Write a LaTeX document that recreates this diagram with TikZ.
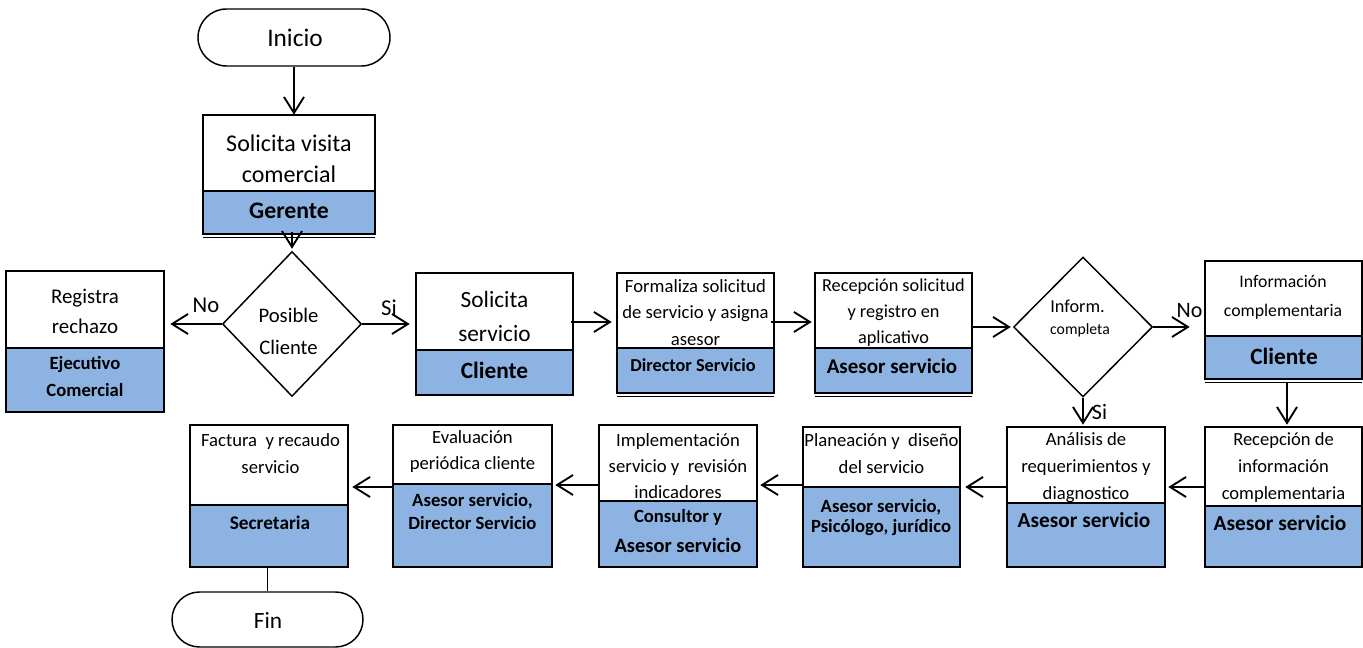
\documentclass[tikz,border=0pt]{standalone}
\usepackage{fontspec}
\setmainfont{Carlito}
\usetikzlibrary{arrows.meta,shapes.geometric,shapes.misc,calc,fit}
\definecolor{rolefill}{RGB}{141,179,226}
\tikzset{
  boxline/.style={line width=1.5pt},
  dblline/.style={line width=1pt},
  arr/.style={line width=1.4pt,-{Straight Barb[length=12pt,width=15pt,line width=1.4pt]}},
  conn/.style={line width=1.4pt},
  term/.style={draw, line width=1.1pt, rounded rectangle, inner sep=0pt},
  decision/.style={draw, line width=1.1pt, diamond, inner sep=0pt},
  txt/.style={align=center, inner sep=0pt},
  lbl/.style={inner sep=0pt, font=\fontsize{17}{20}\selectfont},
}
\newcommand\procbox[6]{%
  \node[fit={(#2,#4)(#3,#6)}, inner sep=0pt, fill=white] (#1) {};
  \fill[rolefill] (#2,#5) rectangle (#3,#6);
  \draw[boxline] (#2,#5) -- (#3,#5);
  \draw[boxline] (#1.north west) rectangle (#1.south east);
}
\newcommand\dblbottom[1]{%
  \draw[dblline] ($(#1.south west)+(0,3)$) -- ($(#1.south east)+(0,3)$);
}
\begin{document}
\begin{tikzpicture}[x=0.75pt,y=-0.75pt]
\useasboundingbox (0,0) rectangle (1363,648);

% terminals
\node[term, minimum width=144pt, minimum height=42.75pt] (inicio) at (294,37.5) {};
\node[txt, font=\fontsize{19}{22}\selectfont] (iniciot) at (295,38) {Inicio};
\node[term, minimum width=143.25pt, minimum height=41.25pt] (fin) at (267.5,619.5) {};
\node[txt, font=\fontsize{17.5}{21}\selectfont] (fint) at (268,620) {Fin};

% process boxes
\procbox{b1}{203}{375}{115}{191}{234}
\dblbottom{b1}
\node[txt, font=\fontsize{18}{23}\selectfont] (b1t) at (289,158.5) {Solicita visita\\comercial};
\node[txt, font=\bfseries\fontsize{17.8}{21}\selectfont] (b1r) at (289,211) {Gerente};

\procbox{b2}{6}{164}{271}{348}{412}
\node[txt, font=\fontsize{15.7}{22}\selectfont] (b2t) at (85,311.5) {Registra\\rechazo};
\node[txt, font=\bfseries\fontsize{14}{20}\selectfont] (b2r) at (85,376.5) {Ejecutivo\\Comercial};

\procbox{b3}{416}{573}{273}{350}{395}
\node[txt, font=\fontsize{17.5}{25}\selectfont] (b3t) at (494.5,316.5) {Solicita\\servicio};
\node[txt, font=\bfseries\fontsize{17.5}{21}\selectfont] (b3r) at (494.5,370) {Cliente};

\procbox{b4}{617}{774}{273}{348}{393}
\dblbottom{b4}
\node[txt, font=\fontsize{14}{20}\selectfont] (b4t) at (695.5,312.5) {Formaliza solicitud\\de servicio y asigna\\asesor};
\node[txt, font=\bfseries\fontsize{13.7}{17}\selectfont] (b4r) at (693,365) {Director Servicio};

\procbox{b5}{815}{972}{273}{348}{393}
\dblbottom{b5}
\node[txt, font=\fontsize{13.7}{19.3}\selectfont] (b5t) at (893.5,312.5) {Recepción solicitud\\y registro en\\aplicativo};
\node[txt, font=\bfseries\fontsize{15.75}{19}\selectfont] (b5r) at (892,366) {Asesor servicio};

\procbox{b6}{1205}{1362}{261}{336}{379}
\dblbottom{b6}
\node[txt, font=\fontsize{13.3}{22}\selectfont] (b6t) at (1283,297.5) {Información\\complementaria};
\node[txt, font=\bfseries\fontsize{17.5}{21}\selectfont] (b6r) at (1284,356) {Cliente};

\procbox{b7}{1205}{1362}{427}{506}{567}
\node[txt, font=\fontsize{13.9}{20.5}\selectfont] (b7t) at (1283.5,467.5) {Recepción de\\información\\complementaria};
\node[txt, font=\bfseries\fontsize{16}{19}\selectfont] (b7r) at (1280,523) {Asesor servicio};

\procbox{b8}{1007}{1165}{427}{503}{567}
\node[txt, font=\fontsize{14}{20.5}\selectfont] (b8t) at (1086,467.5) {Análisis de\\requerimientos y\\diagnostico};
\node[txt, font=\bfseries\fontsize{16}{19}\selectfont] (b8r) at (1084,520) {Asesor servicio};

\procbox{b9}{803}{960}{427}{487}{567}
\node[txt, font=\fontsize{14}{20}\selectfont] (b9t) at (881.5,453.5) {Planeación y~~diseño\\del servicio};
\node[txt, font=\bfseries\fontsize{14}{14.5}\selectfont] (b9r) at (881,517.5) {Asesor servicio,\\Psicólogo, jurídico};

\procbox{b10}{599}{757}{425}{501}{567}
\node[txt, font=\fontsize{14}{19.5}\selectfont] (b10t) at (678,466) {Implementación\\servicio y~~revisión\\indicadores};
\node[txt, font=\bfseries\fontsize{14}{17}\selectfont] (b10r) at (678,517) {Consultor y};
\node[txt, font=\bfseries\fontsize{15.3}{18}\selectfont] (b10s) at (678,545) {Asesor servicio};

\procbox{b11}{393}{552}{425}{484}{567}
\node[txt, font=\fontsize{14}{20}\selectfont] (b11t) at (472.5,451.5) {Evaluación\\periódica cliente};
\node[txt, font=\bfseries\fontsize{14}{17}\selectfont] (b11r) at (472.5,511.5) {Asesor servicio,\\Director Servicio};

\procbox{b12}{190}{348}{425}{505}{567}
\node[txt, font=\fontsize{14}{20}\selectfont] (b12t) at (270.5,453.5) {Factura~~y recaudo\\servicio};
\node[txt, font=\bfseries\fontsize{14.5}{18}\selectfont] (b12r) at (270,523) {Secretaria};

% decisions
\node[decision, minimum width=104.25pt, minimum height=108.75pt] (d1) at (292,324) {};
\node[txt, font=\fontsize{15.5}{24}\selectfont] (d1t) at (288.5,331) {Posible\\Cliente};
\node[decision, minimum width=104.25pt, minimum height=105pt] (d2) at (1083,327) {};
\node[txt, font=\fontsize{13.7}{16}\selectfont] (d2t) at (1077.5,306) {Inform.};
\node[txt, font=\fontsize{11.8}{14}\selectfont] (d2s) at (1080,330) {completa};

% labels
\node[lbl] (lno1) at (206,305) {No};
\node[lbl] (lsi1) at (389,308) {Si};
\node[lbl, font=\fontsize{16.5}{20}\selectfont] (lno2) at (1189.5,310.5) {No};
\node[lbl, font=\fontsize{16.5}{20}\selectfont] (lsi2) at (1099.5,412) {Si};

% connectors
\draw[arr] (inicio.south) -- (inicio.south |- b1.north);
\coordinate (s1) at ($(d1.north |- b1.south)+(0,-2)$);
\draw[arr, shorten >=1.5pt] (s1) -- (d1.north);
\draw[arr, shorten >=4.5pt] (d1.west) -- (d1.west -| b2.east);
\draw[arr, shorten >=4.5pt] (d1.east) -- (d1.east -| b3.west);
\coordinate (s2) at ($(b3.east)+(-2,-12)$);
\draw[arr, shorten >=3.75pt] (s2) -- (s2 -| b4.west);
\coordinate (s3) at ($(b4.east)+(-3,-11)$);
\draw[arr, shorten >=2.25pt] (s3) -- (s3 -| b5.west);
\coordinate (s4) at ($(b5.east)+(0,-6)$);
\draw[arr, shorten >=1.5pt] (s4) -- (s4 -| d2.west);
\draw[arr, shorten >=11.25pt] (d2.east) -- (d2.east -| b6.west);
\draw[arr, shorten >=1.5pt] (d2.south) -- (d2.south |- b8.north);
\coordinate (s5) at ($(b6.south)+(3.5,3)$);
\draw[arr, shorten >=1.5pt] (s5) -- (s5 |- b7.north);
\coordinate (s6) at ($(b7.west)+(0,-10)$);
\draw[arr, shorten >=2.25pt] (s6) -- (s6 -| b8.east);
\coordinate (s7) at ($(b8.west)+(0,-10)$);
\draw[arr, shorten >=3.75pt] (s7) -- (s7 -| b9.east);
\coordinate (s8) at ($(b9.west)+(0,-12)$);
\draw[arr, shorten >=2.25pt] (s8) -- (s8 -| b10.east);
\coordinate (s9) at ($(b10.west)+(0,-11)$);
\draw[arr, shorten >=2.25pt] (s9) -- (s9 -| b11.east);
\coordinate (s10) at ($(b11.west)+(0,-9)$);
\draw[arr, shorten >=3pt] (s10) -- (s10 -| b12.east);
\draw[conn] (fin.north |- b12.south) -- (fin.north);
\end{tikzpicture}
\end{document}
